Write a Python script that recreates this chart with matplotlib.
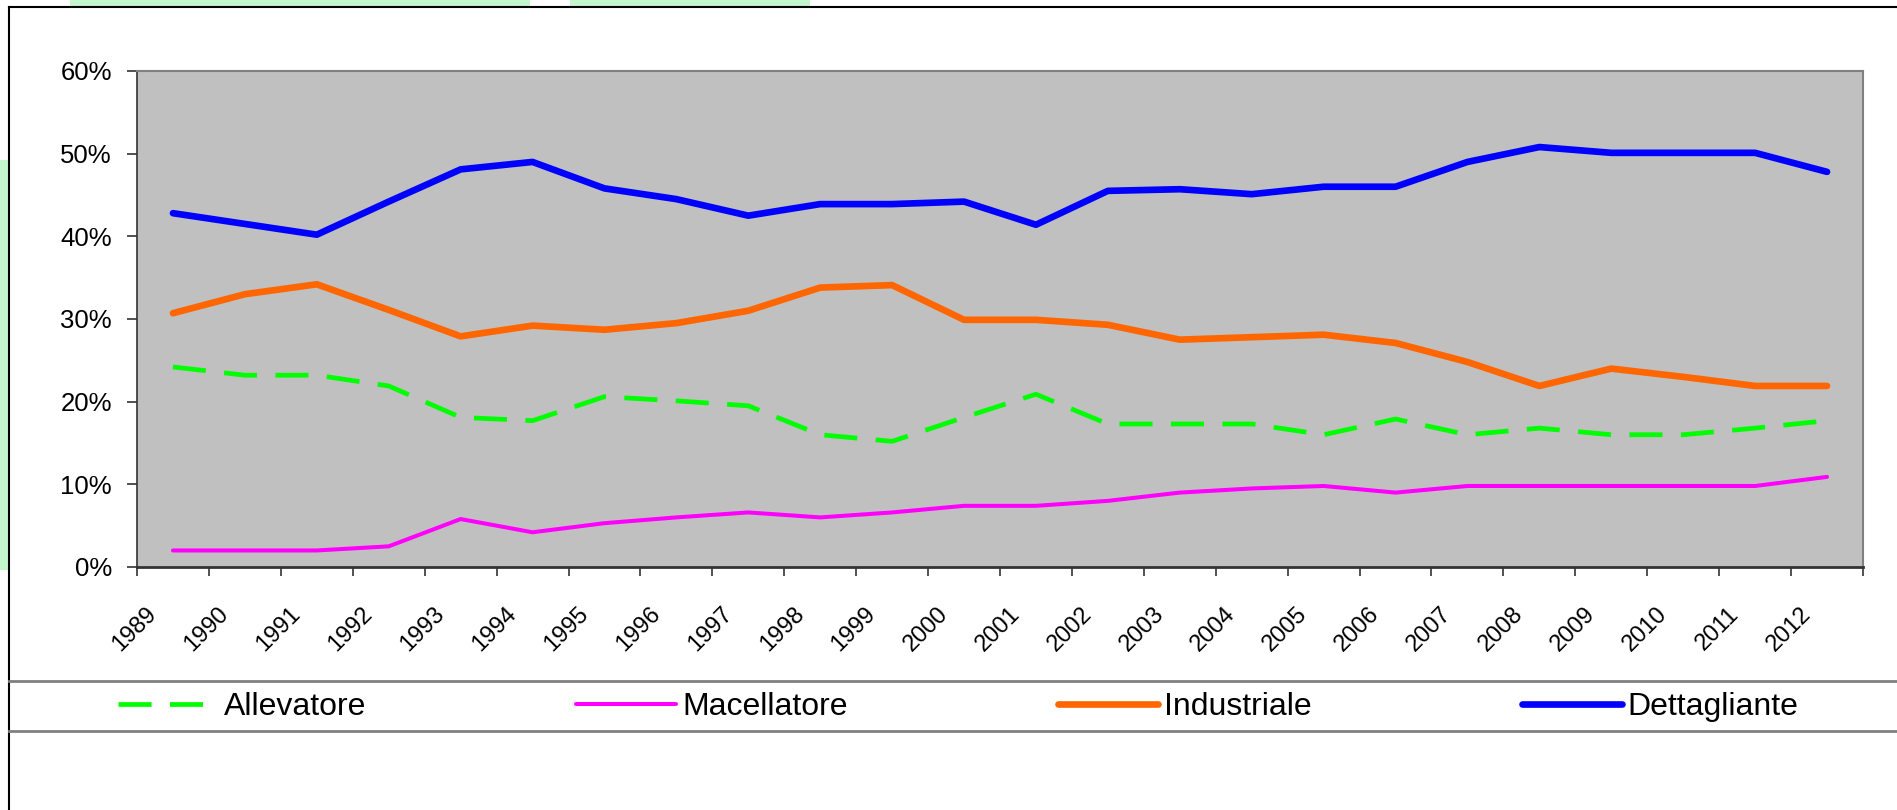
import matplotlib
matplotlib.use("Agg")
import matplotlib.pyplot as plt
import matplotlib.transforms as mtransforms
from matplotlib.patches import Rectangle
from matplotlib.ticker import FixedLocator, PercentFormatter
import numpy as np

plt.rcParams['font.family'] = ['Liberation Sans', 'DejaVu Sans']

years = [str(y) for y in range(1989, 2013)]
allevatore = [24.2, 23.2, 23.2, 21.9, 18.1, 17.7, 20.6, 20.1, 19.5, 16.0, 15.2, 18.1,
              20.9, 17.3, 17.3, 17.3, 16.0, 17.9, 16.0, 16.8, 16.0, 16.0, 16.8, 17.7]
macellatore = [2.0, 2.0, 2.0, 2.5, 5.8, 4.2, 5.3, 6.0, 6.6, 6.0, 6.6, 7.4,
               7.4, 8.0, 9.0, 9.5, 9.8, 9.0, 9.8, 9.8, 9.8, 9.8, 9.8, 10.9]
industriale = [30.7, 33.0, 34.2, 31.1, 27.9, 29.2, 28.7, 29.5, 31.0, 33.8, 34.1, 29.9,
               29.9, 29.3, 27.5, 27.8, 28.1, 27.1, 24.8, 21.9, 24.0, 23.0, 21.9, 21.9]
dettagliante = [42.8, 41.5, 40.2, 44.2, 48.1, 49.0, 45.8, 44.5, 42.5, 43.9, 43.9, 44.2,
                41.4, 45.5, 45.7, 45.1, 46.0, 46.0, 49.0, 50.8, 50.1, 50.1, 50.1, 47.8]
yticks = [0, 10, 20, 30, 40, 50, 60]

W, H = 1897, 810
fig = plt.figure(figsize=(W / 100, H / 100), dpi=100)
fig.patch.set_facecolor('white')

def fx(px):
    return px / W

def fy(py):
    return 1 - py / H

# faint green background artefacts
for (x0, y0, x1, y1) in [(0, 160, 9, 570), (70, 0, 530, 6), (570, 0, 810, 6)]:
    fig.add_artist(Rectangle((fx(x0), fy(y1)), fx(x1) - fx(x0), fy(y0) - fy(y1),
                             transform=fig.transFigure, facecolor='#c4f6cd',
                             edgecolor='none', zorder=0))

# chart border (left, top) and legend box lines
fig.add_artist(plt.Line2D([fx(9), fx(9)], [fy(7), 0], transform=fig.transFigure,
                          color='black', lw=1.5))
fig.add_artist(plt.Line2D([fx(9), 1], [fy(7), fy(7)], transform=fig.transFigure,
                          color='black', lw=1.5))
for yy in (681, 731):
    fig.add_artist(plt.Line2D([fx(9), 1], [fy(yy), fy(yy)], transform=fig.transFigure,
                              color='#808080', lw=2))

L, R, T, B = 137, 1863, 71, 567
ax = fig.add_axes([fx(L), fy(B), fx(R) - fx(L), fy(T) - fy(B)])
ax.set_facecolor('#C0C0C0')

x = np.arange(len(years)) + 0.5
ax.plot(x, allevatore, color='#00FF00', lw=3.4, linestyle=(0, (7, 3.9)),
        label='Allevatore', dash_capstyle='butt')
ax.plot(x, macellatore, color='#FF00FF', lw=2.9, label='Macellatore',
        solid_capstyle='round', solid_joinstyle='round')
ax.plot(x, industriale, color='#FF6600', lw=4.8, label='Industriale',
        solid_capstyle='round', solid_joinstyle='round')
ax.plot(x, dettagliante, color='#0000FF', lw=4.8, label='Dettagliante',
        solid_capstyle='round', solid_joinstyle='round')

ax.set_xlim(0, len(years))
ax.set_ylim(0, 60)
ax.set_yticks(yticks)
ax.yaxis.set_major_formatter(PercentFormatter(decimals=0))
ax.tick_params(axis='y', direction='out', length=7, width=1.2, color='#333333',
               pad=11, labelsize=18.5)

ax.set_xticks(x)
ax.set_xticklabels(years, rotation=45, ha='right', va='center',
                   rotation_mode='anchor', fontsize=17)
ax.xaxis.set_minor_locator(FixedLocator(np.arange(len(years) + 1)))
ax.tick_params(axis='x', which='major', length=0, pad=0)
ax.tick_params(axis='x', which='minor', direction='out', length=6.5, width=1.2,
               color='#333333')
offset = mtransforms.ScaledTranslation(-19.5 / 100, -43.5 / 100, fig.dpi_scale_trans)
for lab in ax.get_xticklabels():
    lab.set_transform(lab.get_transform() + offset)

for s in ('top', 'right'):
    ax.spines[s].set_color('#808080')
    ax.spines[s].set_linewidth(1.5)
ax.spines['bottom'].set_color('#333333')
ax.spines['bottom'].set_linewidth(2)
ax.spines['left'].set_color('#333333')
ax.spines['left'].set_linewidth(1.2)

fs = 23
px_per_em = fs * 100 / 72
leg = fig.legend(loc='center left', bbox_to_anchor=(fx(118), fy(707)),
                 ncol=4, frameon=False, fontsize=fs,
                 handlelength=100 / px_per_em, handletextpad=6 / px_per_em,
                 columnspacing=210 / px_per_em, borderpad=0, borderaxespad=0)

fig.savefig('out.png', dpi=100, facecolor='white')
